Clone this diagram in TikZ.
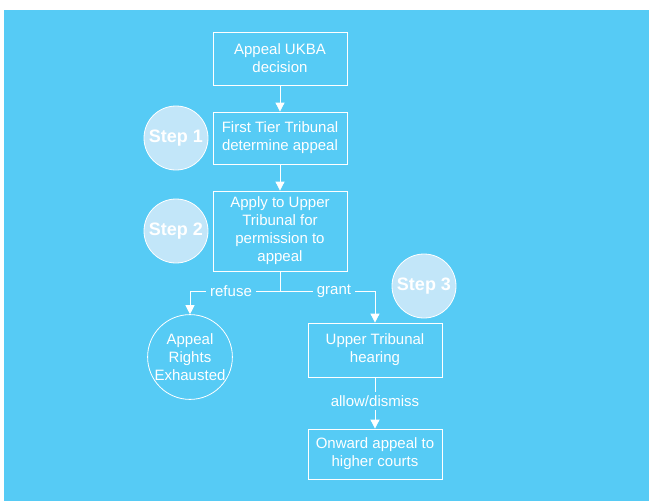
\documentclass[tikz,border=0pt]{standalone}
\usepackage{fontspec}
\setmainfont{Liberation Sans}
\usetikzlibrary{arrows.meta,positioning}
\definecolor{bgblue}{RGB}{86,203,245}
\definecolor{stepfill}{RGB}{194,230,249}

\begin{document}
\begin{tikzpicture}[
  x=1pt,y=-1pt,
  box/.style={draw=white,line width=0.8pt,text=white,align=center,
              minimum width=134pt,inner sep=0pt,font=\fontsize{15}{18}\selectfont},
  stepcirc/.style={circle,draw=white,line width=0.8pt,fill=stepfill,text=white,
                   minimum size=64pt,inner sep=0pt,font=\bfseries\fontsize{18}{20}\selectfont},
  endcirc/.style={circle,draw=white,line width=0.8pt,text=white,align=center,
                  minimum size=80pt,inner sep=0pt,font=\fontsize{15}{18}\selectfont},
  lbl/.style={fill=bgblue,text=white,inner xsep=4pt,inner ysep=3pt,
              font=\fontsize{15}{18}\selectfont},
  arrow/.style={-{Triangle[length=9pt,width=9pt]},draw=white,line width=0.8pt},
  link/.style={draw=white,line width=0.8pt}
]
\useasboundingbox (0,0) rectangle (649,501);
\fill[bgblue] (4,10) rectangle (649,501);

% main column
\node[box,minimum height=53pt] (decision) at (280,58.5) {Appeal UKBA\\decision};
\node[box,minimum height=52pt] (tier) at (280,138) {First Tier Tribunal\\determine appeal};
\node[box,minimum height=80pt] (permission) at (280,231)
  {Apply to Upper\\Tribunal for\\permission to\\appeal};
\node[endcirc] (exhausted) at (190,357) {Appeal\\Rights\\Exhausted};
\node[box,minimum height=54pt] (hearing) at (375,350) {Upper Tribunal\\hearing};
\node[box,minimum height=50pt] (onward) at (375,454) {Onward appeal to\\higher courts};

% steps
\node[stepcirc] (stepone) at (176,138) {Step 1};
\node[stepcirc] (steptwo) at (176,231) {Step 2};
\node[stepcirc] (stepthree) at (424,286) {Step 3};

\coordinate (split) at (280,291);
\coordinate (leftturn) at (190,291);
\coordinate (rightturn) at (375,291);

\draw[arrow] (decision) -- (tier);
\draw[arrow] (tier) -- (permission);
\draw[link] (permission) -- (split);
\draw[arrow] (split) -- (leftturn) -- (exhausted);
\draw[arrow] (split) -- (rightturn) -- (hearing);
\draw[arrow] (hearing) -- (onward);

% labels on the connectors
\node[lbl] (refuse) at (231,291) {refuse};
\node[lbl] (grant) at (334,291) {grant};
\node[lbl] (allow) at (375,401) {allow/dismiss};
\end{tikzpicture}
\end{document}
